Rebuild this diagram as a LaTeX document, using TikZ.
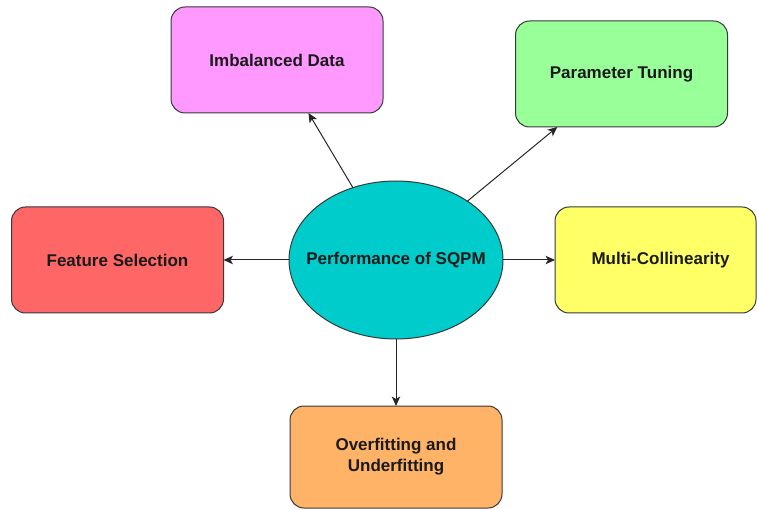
\documentclass[tikz,border=0pt]{standalone}
\usepackage{fontspec}
\setmainfont{Liberation Sans}
\usetikzlibrary{shapes.geometric,arrows.meta}

\definecolor{edgegray}{HTML}{36393D}
\definecolor{txtdark}{HTML}{1A1A1A}
\definecolor{fillpink}{HTML}{FF99FF}
\definecolor{fillgreen}{HTML}{99FF99}
\definecolor{fillred}{HTML}{FF6666}
\definecolor{fillyellow}{HTML}{FFFF66}
\definecolor{fillorange}{HTML}{FFB366}
\definecolor{fillteal}{HTML}{00CCCC}

\tikzset{
  factorbox/.style={draw=edgegray, line width=1pt, rectangle, rounded corners=14pt,
    minimum width=212pt, minimum height=106pt, inner sep=0pt, outer sep=0pt,
    align=center, text=txtdark, font=\fontsize{17pt}{21pt}\selectfont\bfseries},
  hub/.style={draw=edgegray, line width=1pt, ellipse, fill=fillteal,
    minimum width=214pt, minimum height=158pt, inner xsep=-16pt, inner ysep=0pt,
    outer sep=0pt, text=txtdark, font=\fontsize{17pt}{21pt}\selectfont\bfseries},
  link/.style={draw=black!85, line width=1pt,
    -{Stealth[length=9.5pt,width=8.5pt,inset=2.5pt]}}
}

\begin{document}
\begin{tikzpicture}[x=1pt,y=-1pt]
  \useasboundingbox (0,0) rectangle (757,510);

  % central topic
  \node[hub] (perf) at (396,260) {Performance of SQPM};

  % surrounding factors
  \node[factorbox, fill=fillpink]   (imb)   at (277,60)    {Imbalanced Data};
  \node[factorbox, fill=fillgreen]  (tune)  at (621.5,74)  {Parameter Tuning};
  \node[factorbox, fill=fillred]    (feat)  at (117.5,260) {Feature Selection};
  \node[factorbox, fill=fillyellow, minimum width=201pt] (multi) at (655.5,260)
        {\hspace*{10pt}Multi-Collinearity};
  \node[factorbox, fill=fillorange, minimum height=102pt] (fit) at (396,457)
        {Overfitting and\\Underfitting};

  % connectors from the centre outwards
  \draw[link] (perf) -- (imb);
  \draw[link] (perf) -- (tune);
  \draw[link] (perf) -- (feat);
  \draw[link] (perf) -- (multi);
  \draw[link] (perf) -- (fit);
\end{tikzpicture}
\end{document}
